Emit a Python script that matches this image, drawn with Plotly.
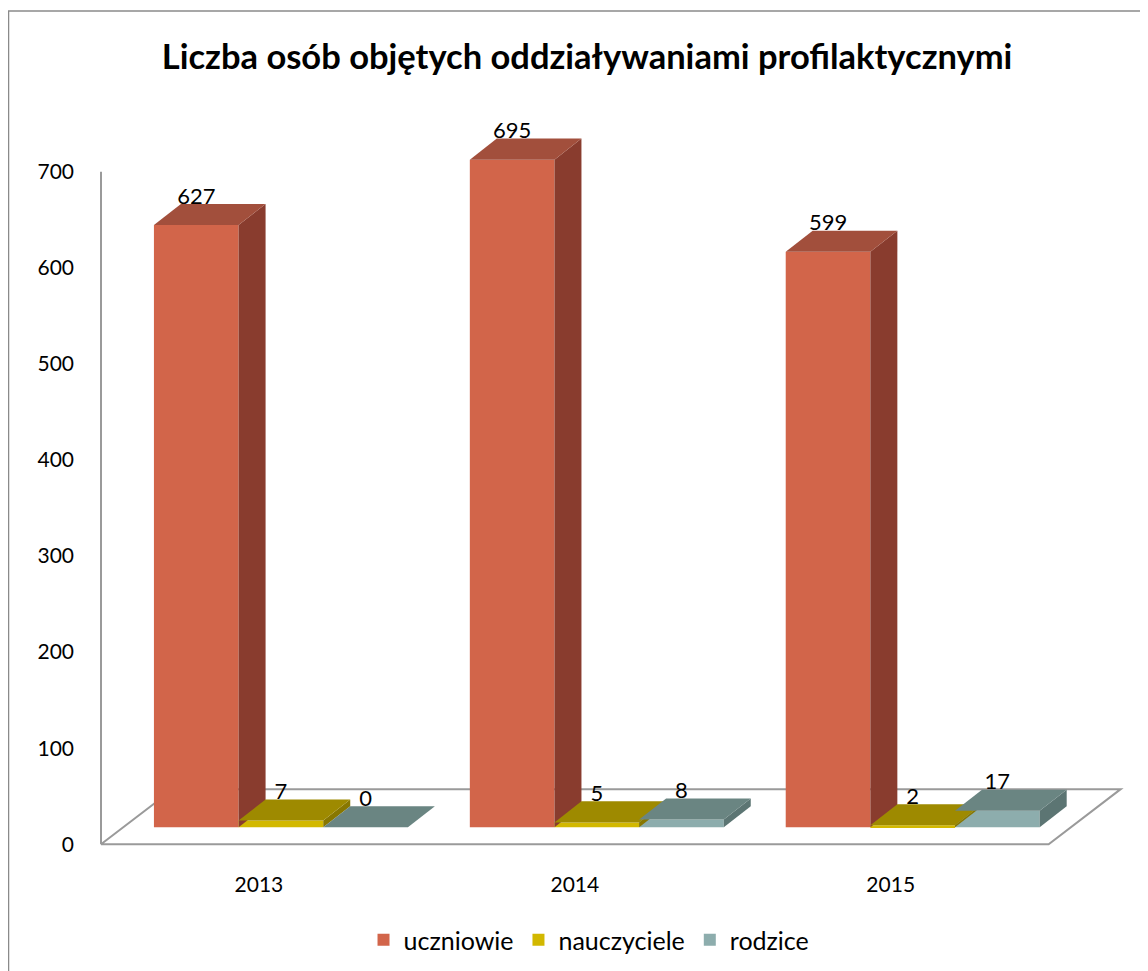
import plotly.graph_objects as go

# ---- data ----
years = ["2013", "2014", "2015"]
series_names = ["uczniowie", "nauczyciele", "rodzice"]
uczniowie = [627, 695, 599]
nauczyciele = [7, 5, 2]
rodzice = [0, 8, 17]
y_ticks = [0, 100, 200, 300, 400, 500, 600, 700]
title_text = "Liczba osób objętych oddziaływaniami profilaktycznymi"

# ---- styles ----
series = [uczniowie, nauczyciele, rodzice]
front_colors = ["#D2654A", "#D2B800", "#8DADAD"]
top_colors = ["#A24F3C", "#9E8A00", "#6A8582"]
side_colors = ["#893C2E", "#887700", "#5C7573"]
FONT = "Lato, Carlito, Calibri, sans-serif"
GRID = "#9a9a9a"

# ---- pseudo-3D geometry (in axis units) ----
BAR_W = 0.268      # front width of one bar
SHIFT_X = 0.0696   # bars sit a bit back in depth
BASE_Y = 17.7
BAR_DX = 0.0854    # bar depth
BAR_DY = 21.9
FLOOR_DX = 0.228   # floor depth
FLOOR_DY = 57.3
LABEL_GAP = 28

cats = list(range(len(years)))
fig = go.Figure()

# front faces (real bars)
for i, (name, vals) in enumerate(zip(series_names, series)):
    xs = [k + SHIFT_X + (i - 1) * BAR_W for k in cats]
    fig.add_trace(go.Bar(
        x=xs, y=vals, base=BASE_Y, width=BAR_W, name=name,
        marker=dict(color=front_colors[i], line=dict(width=0)),
        hovertemplate=name + ": %{y}<extra></extra>",
    ))

# side and top faces, painter order
for k in cats:
    for i, vals in enumerate(series):
        v = vals[k]
        xc = k + SHIFT_X + (i - 1) * BAR_W
        xl, xr = xc - BAR_W / 2, xc + BAR_W / 2
        b, t = BASE_Y, BASE_Y + v
        fig.add_trace(go.Scatter(
            x=[xr, xr, xr + BAR_DX, xr + BAR_DX, xr],
            y=[b, t, t + BAR_DY, b + BAR_DY, b],
            fill="toself", fillcolor=side_colors[i], mode="lines",
            line=dict(width=0, color=side_colors[i]),
            showlegend=False, hoverinfo="skip"))
        fig.add_trace(go.Scatter(
            x=[xl, xr, xr + BAR_DX, xl + BAR_DX, xl],
            y=[t, t, t + BAR_DY, t + BAR_DY, t],
            fill="toself", fillcolor=top_colors[i], mode="lines",
            line=dict(width=0, color=top_colors[i]),
            showlegend=False, hoverinfo="skip"))

# value labels
for i, vals in enumerate(series):
    xs = [k + SHIFT_X + (i - 1) * BAR_W for k in cats]
    fig.add_trace(go.Scatter(
        x=xs, y=[BASE_Y + v + LABEL_GAP for v in vals],
        text=[str(v) for v in vals], mode="text",
        textposition="middle center",
        textfont=dict(family=FONT, size=22, color="black"),
        showlegend=False, hoverinfo="skip", cliponaxis=False))

# floor outline and value-axis line (below the bars)
x0, x1 = -0.5, len(years) - 0.5
floor_pts = [(x0, 0), (x1, 0), (x1 + FLOOR_DX, FLOOR_DY),
             (x0 + FLOOR_DX, FLOOR_DY), (x0, 0)]
path = "M " + " L ".join(f"{px},{py}" for px, py in floor_pts)
shapes = [
    dict(type="path", path=path, xref="x", yref="y", layer="below",
         line=dict(color=GRID, width=2)),
    dict(type="line", xref="x", yref="y", x0=x0, x1=x0, y0=0, y1=y_ticks[-1],
         layer="below", line=dict(color=GRID, width=2)),
    # chart border
    dict(type="rect", xref="paper", yref="paper",
         x0=-0.0838, x1=1.5, y0=-0.6, y1=1.1114,
         line=dict(color="#8a8a8a", width=1.5), layer="below"),
]

fig.update_layout(
    width=1148, height=971,
    margin=dict(l=87, r=29, t=87, b=130),
    paper_bgcolor="white", plot_bgcolor="white",
    barmode="overlay",
    font=dict(family=FONT, size=21, color="black"),
    title=dict(text="<b>" + title_text + "</b>", xref="container",
               x=0.5044, xanchor="center", y=0.9495, yanchor="middle",
               font=dict(family=FONT, size=34.5, color="black")),
    xaxis=dict(range=[x0 - 0.019, x1 + FLOOR_DX + 0.02],
               tickvals=cats, ticktext=years, showgrid=False,
               zeroline=False, showline=False, ticks="",
               ticklabelstandoff=21, tickfont=dict(size=21)),
    yaxis=dict(range=[-5, 780], tickvals=y_ticks, showgrid=False,
               zeroline=False, showline=False, ticks="",
               ticklabelstandoff=20, tickfont=dict(size=21)),
    legend=dict(orientation="h", x=0.4787, xanchor="center",
                y=-0.1207, yanchor="middle", font=dict(size=25),
                traceorder="normal"),
    shapes=shapes,
    showlegend=True,
)

fig.write_html("out.html")
